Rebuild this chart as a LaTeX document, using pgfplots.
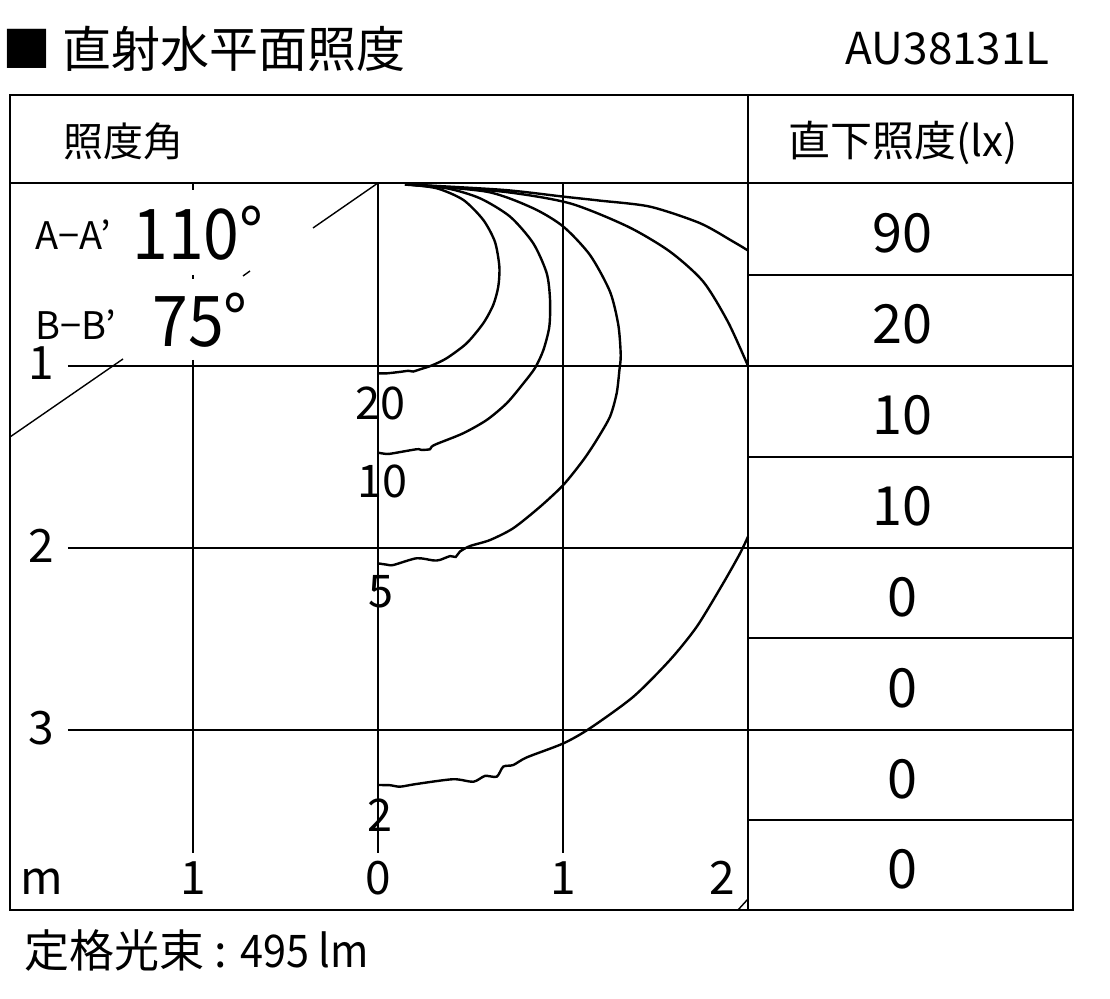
\documentclass[border=0pt]{standalone}
\usepackage{fontspec}
\setmainfont{Noto Sans CJK JP}
\newfontfamily\narrowfont[FakeStretch=0.92]{Noto Sans CJK JP}
\usepackage{pgfplots}
\usepackage{pgfplotstable}
\pgfplotsset{compat=1.18}

% isolux curves, x = horizontal distance (m), y = -depth (m)
\pgfplotstableread{
x y
0.146 -0.007
0.317 -0.029
0.461 -0.093
0.569 -0.203
0.632 -0.323
0.656 -0.460
0.650 -0.570
0.623 -0.670
0.569 -0.771
0.479 -0.881
0.371 -0.963
0.290 -1.003
0.227 -1.024
0.190 -1.036
0.165 -1.032
0.119 -1.038
0.047 -1.046
0.000 -1.046
}\luxTwenty

\pgfplotstableread{
x y
0.146 -0.009
0.371 -0.029
0.551 -0.084
0.714 -0.185
0.839 -0.331
0.912 -0.496
0.930 -0.643
0.926 -0.790
0.894 -0.918
0.849 -1.016
0.786 -1.101
0.696 -1.210
0.588 -1.302
0.461 -1.375
0.317 -1.434
0.290 -1.449
0.281 -1.463
0.236 -1.467
0.209 -1.463
0.083 -1.485
0.047 -1.489
0.000 -1.482
}\luxTen

\pgfplotstableread{
x y
0.146 -0.007
0.588 -0.048
0.839 -0.139
1.002 -0.240
1.146 -0.396
1.254 -0.597
1.299 -0.780
1.312 -0.945
1.305 -1.027
1.290 -1.156
1.254 -1.284
1.182 -1.412
1.110 -1.522
1.002 -1.659
0.876 -1.779
0.731 -1.897
0.605 -1.962
0.497 -1.995
0.443 -2.025
0.420 -2.055
0.390 -2.050
0.335 -2.071
0.300 -2.074
0.209 -2.062
0.083 -2.099
0.047 -2.097
0.000 -2.090
}\luxFive

\pgfplotstableread{
x y
0.146 -0.007
0.677 -0.048
1.038 -0.112
1.351 -0.240
1.578 -0.377
1.758 -0.542
1.892 -0.764
2.000 -1.005
}\luxTwoTop

\pgfplotstableread{
x y
2.000 -1.943
1.957 -2.035
1.866 -2.199
1.723 -2.438
1.578 -2.621
1.380 -2.823
1.146 -2.996
1.002 -3.079
0.804 -3.156
0.731 -3.198
0.677 -3.207
0.642 -3.262
0.578 -3.258
0.515 -3.290
0.407 -3.276
0.209 -3.302
0.119 -3.317
0.065 -3.309
0.000 -3.308
}\luxTwoBottom

\pgfplotstableread{
x y
0.146 -0.007
0.677 -0.038
1.002 -0.075
1.200 -0.097
1.470 -0.130
1.741 -0.221
1.921 -0.323
2.000 -0.371
}\luxOne

\newcommand\fs[1]{\fontsize{#1}{#1}\selectfont}

\begin{document}
\begin{tikzpicture}
\begin{axis}[
  x=92.5pt, y=91pt,
  xmin=-2.0432, xmax=3.9568, ymin=-4.4835, ymax=1.0055,
  hide axis, clip=false,
]
\addplot[black, line width=1.2pt, smooth, tension=0.45] table {\luxTwenty};
\addplot[black, line width=1.2pt, smooth, tension=0.45] table {\luxTen};
\addplot[black, line width=1.2pt, smooth, tension=0.45] table {\luxFive};
\addplot[black, line width=1.2pt, smooth, tension=0.45] table {\luxTwoTop};
\addplot[black, line width=1.2pt, smooth, tension=0.45] table {\luxTwoBottom};
\addplot[black, line width=1.2pt, smooth, tension=0.45] table {\luxOne};
\coordinate (O) at (axis cs:0,0);
\end{axis}

\begin{scope}[shift={(O)}, xshift=-189pt, yshift=91.5pt, x=0.5pt, y=-0.5pt]
  \path (0,0) rectangle (1110,999);
  % grid
  \begin{scope}[line width=0.7pt]
    \draw (68,366) -- (748,366);
    \draw (68,548) -- (748,548);
    \draw (68,730) -- (748,730);
    \draw (378,183) -- (378,853);
    \draw (563,183) -- (563,853);
    \draw (193,183) -- (193,190);
    \draw (193,275) -- (193,279);
    \draw (193,360) -- (193,853);
    \draw (378,183) -- (313,228);
    \draw (250,271) -- (243,276);
    \draw (123,359) -- (10,437);
    \draw (738,910) -- (748,899);
  \end{scope}
  % table
  \begin{scope}[line width=0.9pt]
    \draw (10,183) -- (1073,183);
    \draw (748,95) -- (748,910);
    \foreach \yy in {275,366,457,548,638,730,820} \draw (748,\yy) -- (1073,\yy);
  \end{scope}
  \draw[line width=1.4pt] (10,95) rectangle (1073,910);

  % texts
  \node[anchor=base west, inner sep=0] at (2,68) {\fs{24.5pt}■ 直射水平面照度};
  \node[anchor=base east, inner sep=0] at (1050,65) {\fs{22pt}AU38131L};
  \node[anchor=base west, inner sep=0] at (63,157) {\fs{20pt}照度角};
  \node[anchor=base west, inner sep=0] at (788,157) {\fs{21pt}直下照度(lx)};
  \node[anchor=base west, inner sep=0] at (35,250) {\fs{19pt}A−A’};
  \node[anchor=base west, inner sep=0] at (132,260) {\narrowfont\fs{35pt}110°};
  \node[anchor=base west, inner sep=0] at (35,340) {\fs{19pt}B−B’};
  \node[anchor=base west, inner sep=0] at (152,347) {\narrowfont\fs{35pt}75°};
  % axis labels
  \node[anchor=base, inner sep=0] at (41,380) {\fs{23pt}1};
  \node[anchor=base, inner sep=0] at (41,563) {\fs{23pt}2};
  \node[anchor=base, inner sep=0] at (41,745) {\fs{23pt}3};
  \node[anchor=base, inner sep=0] at (42,895) {\fs{23pt}m};
  \node[anchor=base, inner sep=0] at (193,895) {\fs{23pt}1};
  \node[anchor=base, inner sep=0] at (378,895) {\fs{23pt}0};
  \node[anchor=base, inner sep=0] at (563,895) {\fs{23pt}1};
  \node[anchor=base, inner sep=0] at (722,895) {\fs{23pt}2};
  % curve labels
  \node[anchor=base, inner sep=0] at (380,420) {\fs{22.5pt}20};
  \node[anchor=base, inner sep=0] at (382,498) {\fs{22.5pt}10};
  \node[anchor=base, inner sep=0] at (381,608) {\fs{22.5pt}5};
  \node[anchor=base, inner sep=0] at (380,832) {\fs{22.5pt}2};
  % table values
  \foreach \v/\b in {90/253,20/344,10/435,10/526,0/617,0/708,0/799,0/889}
    \node[anchor=base, inner sep=0] at (902,\b) {\fs{27pt}\v};
  % footer
  \node[anchor=base west, inner sep=0] at (24,968) {\fs{22.5pt}定格光束 : {\narrowfont 495 lm}};
\end{scope}
\end{tikzpicture}
\end{document}
